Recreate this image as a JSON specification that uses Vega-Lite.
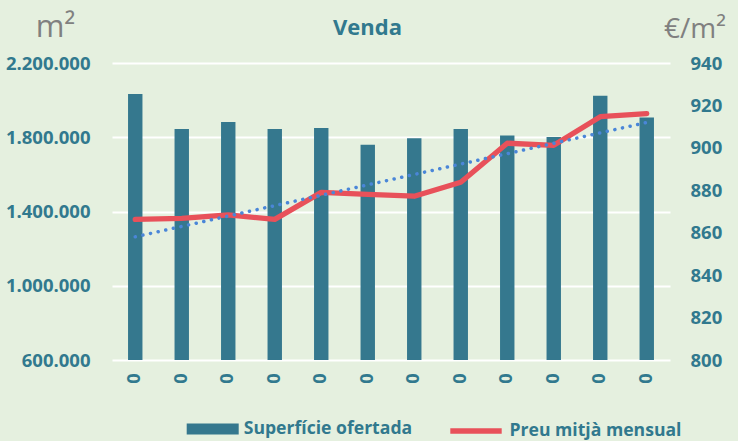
{
  "$schema": "https://vega.github.io/schema/vega-lite/v6.json",
  "width": 558,
  "height": 297,
  "autosize": {"type": "none"},
  "padding": {"left": 112, "top": 63, "right": 68, "bottom": 81},
  "background": "#E5F0DF",
  "config": {"view": {"stroke": null}, "font": "Open Sans"},
  "data": {"values": [
    {"i": 1, "sup": 2033000, "preu": 866.3},
    {"i": 2, "sup": 1844000, "preu": 866.8},
    {"i": 3, "sup": 1882000, "preu": 868.4},
    {"i": 4, "sup": 1844000, "preu": 866.3},
    {"i": 5, "sup": 1850000, "preu": 879.0},
    {"i": 6, "sup": 1760000, "preu": 878.1},
    {"i": 7, "sup": 1794000, "preu": 877.2},
    {"i": 8, "sup": 1844000, "preu": 883.8},
    {"i": 9, "sup": 1810000, "preu": 902.2},
    {"i": 10, "sup": 1801000, "preu": 901.2},
    {"i": 11, "sup": 2024000, "preu": 914.7},
    {"i": 12, "sup": 1907000, "preu": 916.1}
  ]},
  "layer": [
    {
      "mark": {"type": "bar", "width": {"band": 0.31}, "clip": true},
      "encoding": {
        "x": {"field": "i", "type": "ordinal", "scale": {"paddingInner": 0, "paddingOuter": 0},
          "axis": {"orient": "bottom", "labelExpr": "'0'", "labelAngle": -90, "title": null, "domain": false, "ticks": false, "labelPadding": 18, "labelFontSize": 18, "labelFontWeight": "bold", "labelColor": "#31798E", "labelAlign": "center", "labelBaseline": "middle", "grid": false}},
        "y": {"field": "sup", "type": "quantitative", "scale": {"domain": [600000, 2200000], "nice": false, "zero": false},
          "axis": {"orient": "left", "values": [600000, 1000000, 1400000, 1800000, 2200000],
            "labelExpr": "replace(replace(format(datum.value, ','), ',', '.'), ',', '.')",
            "title": "m²", "titleAngle": 0, "titleX": -57, "titleY": -27, "titleAlign": "center", "titleBaseline": "alphabetic",
            "titleFontSize": 31, "titleFontWeight": "normal", "titleColor": "#808080",
            "grid": true, "gridColor": "#FFFFFF", "gridWidth": 2, "domain": false, "ticks": false,
            "labelPadding": 22, "labelFontSize": 18.5, "labelFontWeight": "bold", "labelColor": "#31798E"}},
        "fill": {"datum": "Superfície ofertada", "type": "nominal", "scale": {"range": ["#35788E"]},
          "legend": {"orient": "none", "legendX": 74.7, "legendY": 340, "title": null, "padding": 0,
            "symbolType": "M-1,-0.21H1V0.21H-1Z", "symbolSize": 2704, "symbolStrokeWidth": 0,
            "labelFontSize": 17.6, "labelFontWeight": "bold", "labelColor": "#31798E", "labelOffset": 5, "labelLimit": 400}}
      }
    },
    {
      "encoding": {
        "x": {"field": "i", "type": "ordinal",
          "axis": {"orient": "top", "labels": false, "ticks": false, "domain": false, "grid": false,
            "title": "Venda", "titleX": 255, "titleY": -28.7, "titleAlign": "center", "titleBaseline": "alphabetic",
            "titleFontSize": 22, "titleFontWeight": "bold", "titleColor": "#31798E"}},
        "y": {"field": "preu", "type": "quantitative", "scale": {"domain": [800, 940], "nice": false, "zero": false},
          "axis": {"orient": "right", "values": [800, 820, 840, 860, 880, 900, 920, 940], "format": "d",
            "title": "€/m²", "titleAngle": 0, "titleX": 24.5, "titleY": -26, "titleAlign": "center", "titleBaseline": "alphabetic",
            "titleFontSize": 28, "titleFontWeight": "normal", "titleColor": "#808080",
            "grid": false, "domain": false, "ticks": false,
            "labelPadding": 20, "labelFontSize": 18.5, "labelFontWeight": "bold", "labelColor": "#31798E"}}
      },
      "layer": [
        {
          "mark": {"type": "line", "strokeWidth": 5.3, "strokeCap": "round", "strokeJoin": "round"},
          "encoding": {
            "stroke": {"datum": "Preu mitjà mensual", "type": "nominal", "scale": {"range": ["#E8515A"]},
              "legend": {"orient": "none", "legendX": 335.5, "legendY": 339.5, "title": null, "padding": 0,
                "symbolType": "stroke", "symbolSize": 2642, "symbolStrokeWidth": 5.3,
                "labelFontSize": 17.6, "labelFontWeight": "bold", "labelColor": "#31798E", "labelOffset": 5, "labelLimit": 400}}
          }
        },
        {
          "transform": [{"regression": "preu", "on": "i"}],
          "mark": {"type": "line", "color": "#4A86D8", "strokeWidth": 3.5, "strokeDash": [0.1, 7.7], "strokeCap": "round"},
          "encoding": {}
        }
      ]
    }
  ],
  "resolve": {"scale": {"y": "independent", "fill": "independent", "stroke": "independent"}, "axis": {"x": "independent"}}
}
